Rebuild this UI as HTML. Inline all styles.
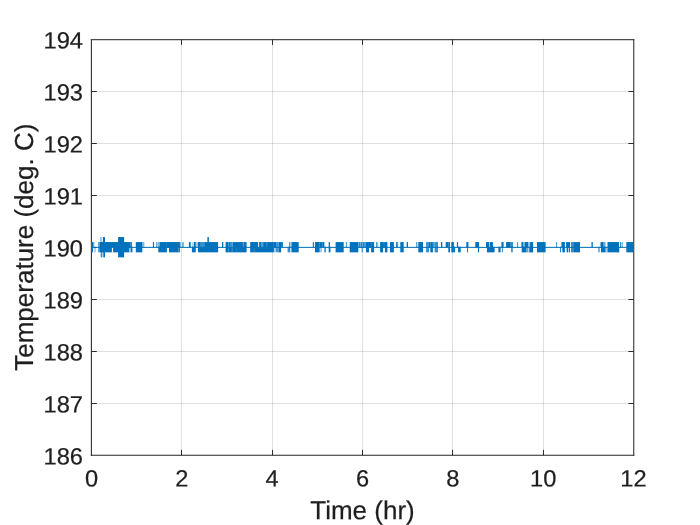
<!DOCTYPE html>
<html lang="en">
<head>
<meta charset="utf-8">
<title>Temperature vs Time</title>
<style>
html,body{margin:0;padding:0;background:#fff;}
body{width:700px;height:525px;overflow:hidden;}
</style>
</head>
<body>
<svg width="700" height="525" viewBox="0 0 700 525" style="display:block;will-change:transform">
<rect width="700" height="525" fill="#fff"/>
<path d="M181.5 39.5V455.5M272.5 39.5V455.5M362.5 39.5V455.5M452.5 39.5V455.5M543.5 39.5V455.5" stroke="#262626" stroke-opacity="0.15" stroke-width="1" fill="none"/>
<path d="M91.5 403.5H633.5M91.5 351.5H633.5M91.5 299.5H633.5M91.5 247.5H633.5M91.5 195.5H633.5M91.5 143.5H633.5M91.5 91.5H633.5" stroke="#262626" stroke-opacity="0.15" stroke-width="1" fill="none"/>
<path d="M91.4 38.9V455.85" stroke="#2e2e2e" stroke-width="1.1" fill="none"/>
<path d="M633.75 38.9V455.85" stroke="#333" stroke-width="1.1" fill="none"/>
<path d="M90.85000000000001 39.5H634.3" stroke="#4a4a4a" stroke-width="1.25" fill="none"/>
<path d="M90.85000000000001 455.3H634.3" stroke="#262626" stroke-width="1.05" fill="none"/>
<path d="M181.5 455.3v-5.4M181.5 39.5v5.4M272.5 455.3v-5.4M272.5 39.5v5.4M362.5 455.3v-5.4M362.5 39.5v5.4M452.5 455.3v-5.4M452.5 39.5v5.4M543.5 455.3v-5.4M543.5 39.5v5.4M91.4 403.5h5.4M633.75 403.5h-5.4M91.4 351.5h5.4M633.75 351.5h-5.4M91.4 299.5h5.4M633.75 299.5h-5.4M91.4 247.5h5.4M633.75 247.5h-5.4M91.4 195.5h5.4M633.75 195.5h-5.4M91.4 143.5h5.4M633.75 143.5h-5.4M91.4 91.5h5.4M633.75 91.5h-5.4" stroke="#2a2a2a" stroke-width="1" fill="none"/>
<rect x="91.0" y="246.85" width="543.0" height="1.0" fill="#0072BD"/>
<g fill="#0072BD"><rect x="91.0" y="242.05" width="2.0" height="10.30"/><rect x="93.0" y="242.05" width="1.3" height="5.65" opacity="0.6"/><rect x="94.3" y="246.70" width="1.3" height="5.65" opacity="0.5"/><rect x="98.1" y="242.05" width="1.3" height="10.30" opacity="0.7"/><rect x="99.4" y="242.05" width="29.6" height="10.30"/><rect x="111.9" y="247.85" width="1.2" height="4.70" fill="#fff"/><rect x="129.0" y="242.05" width="1.7" height="5.65"/><rect x="129.0" y="246.70" width="1.7" height="5.65" opacity="0.4"/><rect x="130.7" y="246.70" width="1.7" height="5.65"/><rect x="130.7" y="242.05" width="1.2" height="5.65"/><rect x="100.3" y="237.05" width="1.3" height="10.15" opacity="0.6"/><rect x="102.9" y="237.05" width="2.1" height="10.15"/><rect x="100.7" y="247.20" width="1.7" height="10.15" opacity="0.8"/><rect x="103.3" y="247.20" width="1.7" height="10.15"/><rect x="118.1" y="237.05" width="6.0" height="20.30"/><rect x="135.8" y="242.05" width="6.5" height="10.30"/><rect x="142.3" y="242.05" width="2.1" height="5.65" opacity="0.5"/><rect x="152.9" y="242.05" width="1.1" height="5.65"/><rect x="156.4" y="242.05" width="0.8" height="5.65"/><rect x="157.6" y="242.05" width="2.0" height="5.65" opacity="0.5"/><rect x="158.3" y="246.70" width="8.6" height="5.65"/><rect x="159.6" y="242.05" width="7.3" height="5.65"/><rect x="166.9" y="242.05" width="2.1" height="5.65"/><rect x="169.0" y="242.05" width="10.9" height="10.30"/><rect x="178.0" y="247.85" width="0.5" height="4.70" fill="#fff" opacity="0.5"/><rect x="179.9" y="242.05" width="1.0" height="5.65" opacity="0.6"/><rect x="182.2" y="242.05" width="1.5" height="5.65" opacity="0.7"/><rect x="188.9" y="242.05" width="1.8" height="5.65"/><rect x="191.9" y="246.70" width="3.9" height="5.65"/><rect x="193.9" y="242.05" width="1.9" height="5.65"/><rect x="192.5" y="242.05" width="0.8" height="5.65" opacity="0.6"/><rect x="197.9" y="242.05" width="12.1" height="10.30"/><rect x="200.2" y="241.85" width="4.6" height="5.00" fill="#fff" opacity="0.22"/><rect x="207.4" y="237.05" width="1.5" height="10.15"/><rect x="195.8" y="242.05" width="2.1" height="5.65" opacity="0.35"/><rect x="210.0" y="242.05" width="8.1" height="10.30"/><rect x="222.0" y="242.05" width="1.3" height="5.65"/><rect x="225.6" y="242.05" width="21.0" height="10.30"/><rect x="228.4" y="241.85" width="0.7" height="5.00" fill="#fff" opacity="0.5"/><rect x="228.4" y="247.85" width="0.7" height="4.70" fill="#fff" opacity="0.3"/><rect x="230.3" y="241.85" width="0.6" height="5.00" fill="#fff" opacity="0.35"/><rect x="231.6" y="241.85" width="1.1" height="5.00" fill="#fff" opacity="0.5"/><rect x="231.6" y="247.85" width="1.1" height="4.70" fill="#fff" opacity="0.25"/><rect x="242.7" y="241.85" width="1.4" height="5.00" fill="#fff" opacity="0.3"/><rect x="236.5" y="247.85" width="0.7" height="4.70" fill="#fff" opacity="0.2"/><rect x="250.2" y="242.05" width="19.8" height="10.30"/><rect x="258.0" y="241.85" width="1.1" height="5.00" fill="#fff" opacity="0.85"/><rect x="260.9" y="241.85" width="2.5" height="5.00" fill="#fff" opacity="0.3"/><rect x="254.0" y="247.85" width="0.6" height="4.70" fill="#fff" opacity="0.25"/><rect x="266.5" y="241.85" width="0.7" height="5.00" fill="#fff" opacity="0.3"/><rect x="270.0" y="242.05" width="3.9" height="10.30"/><rect x="273.9" y="242.05" width="2.1" height="5.65"/><rect x="273.9" y="246.70" width="2.1" height="5.65" opacity="0.4"/><rect x="276.0" y="242.05" width="2.6" height="10.30" opacity="0.75"/><rect x="278.6" y="242.05" width="2.5" height="10.30"/><rect x="281.1" y="242.05" width="1.8" height="5.65"/><rect x="287.6" y="246.70" width="2.7" height="5.65" opacity="0.8"/><rect x="289.3" y="242.05" width="1.0" height="5.65"/><rect x="291.4" y="242.05" width="7.3" height="10.30"/><rect x="312.8" y="242.05" width="1.1" height="5.65"/><rect x="315.0" y="242.05" width="4.7" height="10.30"/><rect x="319.7" y="242.05" width="3.0" height="5.65"/><rect x="320.5" y="246.70" width="1.0" height="5.65" opacity="0.7"/><rect x="322.7" y="242.05" width="1.7" height="5.65"/><rect x="324.4" y="246.70" width="1.3" height="5.65"/><rect x="328.7" y="242.05" width="1.3" height="10.30"/><rect x="330.0" y="246.70" width="0.9" height="5.65" opacity="0.5"/><rect x="335.6" y="242.05" width="8.1" height="10.30"/><rect x="345.9" y="242.05" width="0.8" height="5.65"/><rect x="349.7" y="242.05" width="8.6" height="10.30"/><rect x="358.3" y="242.05" width="7.7" height="5.65" opacity="0.55"/><rect x="359.2" y="242.05" width="0.7" height="5.65"/><rect x="360.9" y="242.05" width="0.8" height="5.65"/><rect x="363.0" y="242.05" width="0.7" height="5.65"/><rect x="364.6" y="242.05" width="0.7" height="5.65"/><rect x="361.7" y="246.70" width="0.9" height="5.65"/><rect x="366.0" y="242.05" width="3.0" height="10.30"/><rect x="369.0" y="242.05" width="2.1" height="5.65"/><rect x="371.1" y="242.05" width="3.0" height="10.30"/><rect x="376.3" y="242.05" width="0.8" height="5.65"/><rect x="377.6" y="242.05" width="0.5" height="5.65"/><rect x="380.1" y="242.05" width="3.0" height="10.30"/><rect x="383.1" y="242.05" width="1.8" height="5.65"/><rect x="384.9" y="242.05" width="2.5" height="10.30"/><rect x="390.0" y="242.05" width="3.9" height="10.30"/><rect x="396.0" y="242.05" width="0.9" height="5.65"/><rect x="397.3" y="242.05" width="0.8" height="5.65"/><rect x="400.3" y="242.05" width="3.4" height="10.30"/><rect x="406.7" y="242.05" width="1.3" height="5.65"/><rect x="416.1" y="242.05" width="1.3" height="5.65" opacity="0.7"/><rect x="418.3" y="242.05" width="4.7" height="10.30"/><rect x="426.0" y="242.05" width="3.0" height="10.30" opacity="0.75"/><rect x="429.0" y="242.05" width="1.3" height="5.65"/><rect x="430.3" y="242.05" width="2.6" height="10.30"/><rect x="432.9" y="242.05" width="1.7" height="5.65" opacity="0.7"/><rect x="434.6" y="242.05" width="3.4" height="10.30" opacity="0.8"/><rect x="441.0" y="242.05" width="1.3" height="5.65"/><rect x="445.7" y="242.05" width="2.6" height="5.65"/><rect x="448.3" y="242.05" width="1.7" height="10.30"/><rect x="451.3" y="242.05" width="2.6" height="10.30"/><rect x="453.9" y="246.70" width="1.2" height="5.65"/><rect x="456.9" y="242.05" width="1.2" height="5.65"/><rect x="458.1" y="246.70" width="2.6" height="5.65"/><rect x="466.3" y="242.05" width="2.1" height="5.65"/><rect x="467.1" y="246.70" width="0.9" height="5.65"/><rect x="475.3" y="242.05" width="3.8" height="5.65"/><rect x="477.9" y="246.70" width="1.2" height="5.65"/><rect x="486.0" y="242.05" width="6.9" height="5.65"/><rect x="486.9" y="246.70" width="7.7" height="5.65"/><rect x="489.0" y="241.85" width="0.8" height="5.00" fill="#fff" opacity="0.8"/><rect x="498.4" y="246.70" width="2.2" height="5.65"/><rect x="501.4" y="242.05" width="2.2" height="5.65"/><rect x="501.9" y="246.70" width="0.8" height="5.65"/><rect x="506.1" y="242.05" width="3.9" height="5.65"/><rect x="510.0" y="242.05" width="3.0" height="5.65" opacity="0.8"/><rect x="511.3" y="246.70" width="1.3" height="5.65"/><rect x="517.3" y="242.05" width="0.8" height="5.65"/><rect x="521.1" y="242.05" width="12.0" height="10.30" opacity="0.3"/><rect x="521.6" y="242.05" width="1.7" height="5.65"/><rect x="522.0" y="246.70" width="4.3" height="5.65"/><rect x="525.0" y="242.05" width="3.0" height="5.65"/><rect x="526.8" y="246.70" width="0.7" height="5.65"/><rect x="529.3" y="246.70" width="3.8" height="5.65"/><rect x="530.1" y="242.05" width="3.0" height="5.65"/><rect x="524.0" y="242.05" width="0.6" height="5.65" opacity="0.6"/><rect x="528.6" y="242.05" width="0.6" height="5.65" opacity="0.6"/><rect x="537.0" y="242.05" width="8.6" height="10.30"/><rect x="556.3" y="242.05" width="0.8" height="5.65"/><rect x="560.1" y="246.70" width="0.9" height="5.65"/><rect x="561.4" y="242.05" width="2.2" height="5.65"/><rect x="562.3" y="242.05" width="2.6" height="10.30"/><rect x="566.1" y="242.05" width="3.9" height="5.65"/><rect x="566.6" y="246.70" width="1.7" height="5.65"/><rect x="569.0" y="246.70" width="1.0" height="5.65"/><rect x="571.0" y="242.05" width="3.0" height="10.30" opacity="0.8"/><rect x="574.0" y="242.05" width="6.0" height="10.30"/><rect x="591.5" y="242.05" width="1.3" height="5.65"/><rect x="598.0" y="246.70" width="2.0" height="5.65" opacity="0.5"/><rect x="600.5" y="242.05" width="3.0" height="5.65"/><rect x="601.0" y="246.70" width="4.5" height="5.65"/><rect x="603.5" y="242.05" width="2.0" height="5.65" opacity="0.6"/><rect x="605.5" y="246.70" width="2.0" height="5.65" opacity="0.4"/><rect x="607.5" y="242.05" width="11.5" height="10.30"/><rect x="618.0" y="246.70" width="1.5" height="5.65" opacity="0.5"/><rect x="620.0" y="242.05" width="0.8" height="5.65"/><rect x="621.7" y="242.05" width="0.8" height="5.65"/><rect x="626.3" y="242.05" width="6.9" height="10.30"/></g>
<g text-rendering="geometricPrecision" font-family="Liberation Sans, Arial, Helvetica, sans-serif" font-size="23.65" fill="#1e1e1e" stroke="#1e1e1e" stroke-width="0.22">
<text x="83.0" y="464.60" transform="rotate(0.05 83.0 464.60)" text-anchor="end">186</text>
<text x="83.0" y="412.60" transform="rotate(0.05 83.0 412.60)" text-anchor="end">187</text>
<text x="83.0" y="360.60" transform="rotate(0.05 83.0 360.60)" text-anchor="end">188</text>
<text x="83.0" y="308.60" transform="rotate(0.05 83.0 308.60)" text-anchor="end">189</text>
<text x="83.0" y="256.60" transform="rotate(0.05 83.0 256.60)" text-anchor="end">190</text>
<text x="83.0" y="204.60" transform="rotate(0.05 83.0 204.60)" text-anchor="end">191</text>
<text x="83.0" y="152.60" transform="rotate(0.05 83.0 152.60)" text-anchor="end">192</text>
<text x="83.0" y="100.60" transform="rotate(0.05 83.0 100.60)" text-anchor="end">193</text>
<text x="83.0" y="48.60" transform="rotate(0.05 83.0 48.60)" text-anchor="end">194</text>
<text x="91.50" y="486.6" transform="rotate(0.05 91.50 486.6)" text-anchor="middle">0</text>
<text x="181.83" y="486.6" transform="rotate(0.05 181.83 486.6)" text-anchor="middle">2</text>
<text x="272.17" y="486.6" transform="rotate(0.05 272.17 486.6)" text-anchor="middle">4</text>
<text x="362.50" y="486.6" transform="rotate(0.05 362.50 486.6)" text-anchor="middle">6</text>
<text x="452.83" y="486.6" transform="rotate(0.05 452.83 486.6)" text-anchor="middle">8</text>
<text x="543.17" y="486.6" transform="rotate(0.05 543.17 486.6)" text-anchor="middle">10</text>
<text x="633.50" y="486.6" transform="rotate(0.05 633.50 486.6)" text-anchor="middle">12</text>
</g>
<g text-rendering="geometricPrecision" font-family="Liberation Sans, Arial, Helvetica, sans-serif" font-size="26" fill="#1e1e1e" stroke="#1e1e1e" stroke-width="0.22">
<text x="362.5" y="519.3" transform="rotate(0.05 362.5 519.3)" text-anchor="middle">Time (hr)</text>
<text transform="translate(33.4,247.2) rotate(-90)" text-anchor="middle">Temperature (deg. C)</text>
</g>
</svg>
</body>
</html>
